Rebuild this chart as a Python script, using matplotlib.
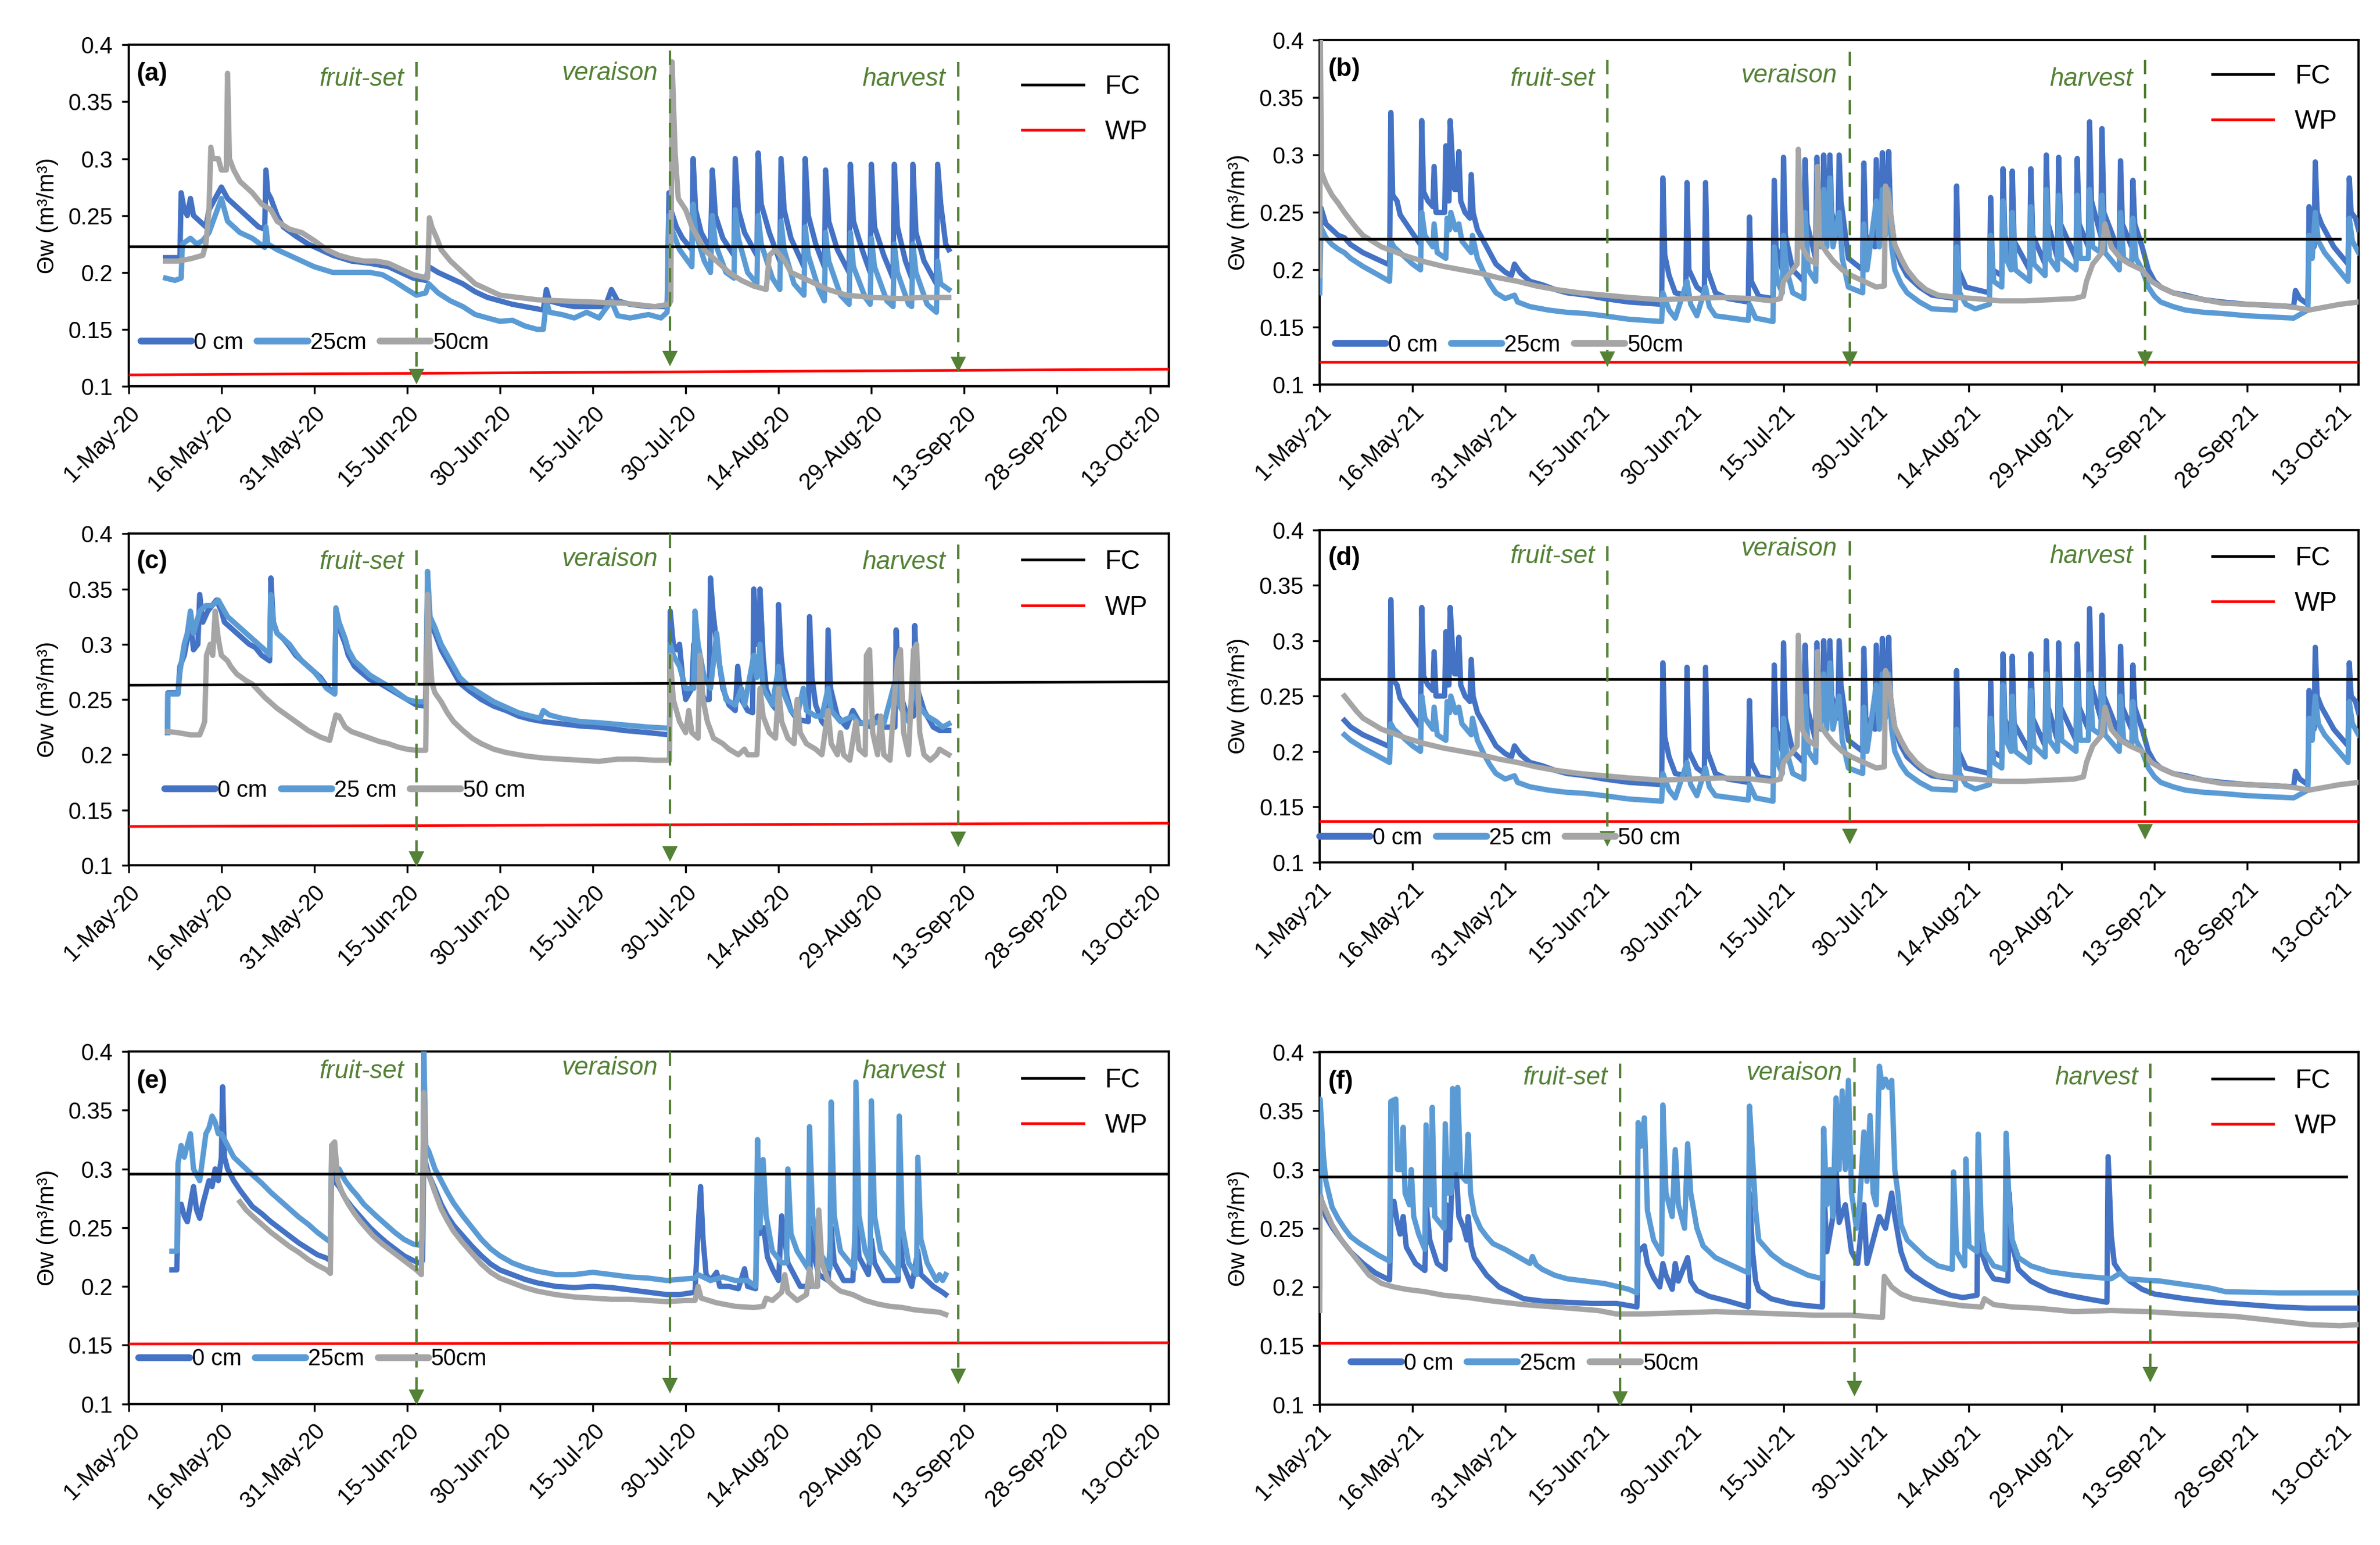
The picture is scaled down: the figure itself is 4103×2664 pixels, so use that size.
import pandas as pd
import matplotlib
matplotlib.use('Agg')
import matplotlib.pyplot as plt
import matplotlib.dates as mdates
from matplotlib.ticker import MultipleLocator, FormatStrFormatter
from matplotlib.lines import Line2D

plt.rcParams['font.family'] = ['Liberation Sans', 'DejaVu Sans']

# ---- soil water content, (day since 1-May, value) pairs ----
# 2020, panel (a)
a_0cm = [(6,0.213),(8.3,0.213),(8.5,0.27),(9,0.255),(9.5,0.25),(10,0.265),(10.5,0.25),(11.5,0.245),(12.5,0.24),
         (13,0.255),(14,0.265),(15,0.275),(16,0.265),(17,0.26),(18,0.255),(19,0.25),(20,0.245),(21,0.24),(22,0.238),
         (22.2,0.29),(22.5,0.27),(23,0.265),(24,0.25),(25,0.24),(27,0.232),(29,0.225),(31,0.22),(33,0.215),(36,0.21),
         (39,0.208),(42,0.205),(44,0.2),(46,0.195),(48,0.193),(48.5,0.205),(50,0.2),(52,0.195),(54,0.19),(56,0.183),
         (58,0.178),(60,0.175),(62,0.172),(64,0.17),(66,0.168),(67,0.167),(67.5,0.185),(68,0.175),(70,0.172),(72,0.17),
         (74,0.17),(77,0.17),(78,0.185),(79,0.175),(81,0.172),(84,0.17),(87,0.17),(87.3,0.27),(87.6,0.255),(88.5,0.24),
         (89.5,0.23),(91,0.22),(91.2,0.3),(91.6,0.255),(92.5,0.235),(94,0.22),(94.3,0.29),(94.8,0.25),(96,0.23),
         (97.8,0.215),(98,0.3),(98.5,0.255),(99.5,0.235),(101.5,0.215),(101.7,0.305),(102.2,0.26),(103.5,0.235),
         (105.2,0.21),(105.4,0.3),(105.9,0.255),(107,0.23),(109.1,0.205),(109.3,0.3),(109.8,0.25),(111,0.225),
         (112.4,0.205),(112.6,0.29),(113.1,0.245),(114.5,0.22),(116.4,0.2),(116.6,0.295),(117.1,0.245),(118.5,0.22),
         (119.8,0.2),(120,0.295),(120.5,0.24),(122,0.215),(123.5,0.195),(123.7,0.295),(124.2,0.24),(125.5,0.21),
         (126.5,0.195),(126.7,0.295),(127.2,0.235),(128.5,0.21),(130.5,0.19),(130.7,0.295),(131.2,0.26),(132,0.225),
         (132.5,0.22)]
a_25cm = [(6,0.195),(7.5,0.193),(8.5,0.195),(8.7,0.225),(10,0.23),(11,0.225),(12,0.228),(13,0.235),(14,0.25),
          (15,0.265),(16,0.245),(17,0.24),(18,0.235),(20,0.23),(22,0.222),(22.2,0.24),(22.5,0.225),(24,0.22),(26,0.215),
          (28,0.21),(30,0.205),(33,0.2),(36,0.2),(39,0.2),(41,0.198),(43,0.192),(45,0.185),(46.5,0.18),(48,0.182),
          (48.5,0.19),(50,0.182),(52,0.175),(54,0.17),(56,0.163),(58,0.16),(60,0.157),(62,0.158),(64,0.153),(66,0.15),
          (67,0.15),(67.5,0.175),(68,0.165),(70,0.163),(72,0.16),(74,0.165),(76,0.16),(78,0.175),(79,0.162),(81,0.16),
          (84,0.163),(86,0.16),(87,0.165),(87.3,0.25),(87.6,0.24),(89,0.22),(91,0.205),(91.2,0.26),(91.6,0.235),
          (93,0.21),(94,0.2),(94.3,0.25),(94.8,0.225),(96.5,0.2),(97.8,0.195),(98,0.255),(98.5,0.23),(100,0.2),
          (101.5,0.19),(101.7,0.25),(102.2,0.225),(104,0.195),(105.2,0.185),(105.4,0.245),(105.9,0.22),(107.5,0.19),
          (109.1,0.18),(109.3,0.24),(109.8,0.215),(111.5,0.185),(112.4,0.175),(112.6,0.235),(113.1,0.21),(115,0.18),
          (116.4,0.172),(116.6,0.235),(117.1,0.205),(119,0.178),(119.8,0.172),(120,0.23),(120.5,0.205),(122.5,0.175),
          (123.5,0.17),(123.7,0.225),(124.2,0.2),(126,0.172),(126.5,0.17),(126.7,0.225),(127.2,0.2),(129,0.172),
          (130.5,0.165),(130.7,0.21),(131.2,0.19),(132.5,0.185)]
a_50cm = [(6,0.21),(8,0.21),(10,0.212),(12,0.215),(12.5,0.225),(13,0.255),(13.3,0.31),(13.6,0.3),(14.5,0.3),(15,0.29),
          (15.8,0.29),(16,0.375),(16.3,0.3),(17,0.29),(18,0.28),(19,0.275),(20,0.27),(21.5,0.26),(23,0.255),(24,0.245),
          (26,0.238),(28,0.235),(30,0.228),(32,0.22),(34,0.215),(36,0.212),(38,0.21),(40,0.21),(42,0.208),(44,0.203),
          (46,0.198),(48.3,0.195),(48.6,0.248),(49,0.24),(49.8,0.23),(50.5,0.22),(52,0.21),(54,0.2),(56,0.19),(58,0.185),
          (60,0.18),(63,0.178),(66,0.176),(70,0.175),(75,0.174),(80,0.173),(85,0.17),(87.3,0.172),(87.6,0.175),
          (87.8,0.385),(88.3,0.305),(88.8,0.265),(90,0.255),(91,0.24),(92,0.23),(93,0.22),(95,0.21),(97,0.2),(99,0.193),
          (101,0.188),(103,0.185),(103.5,0.215),(104.5,0.22),(106,0.21),(107,0.2),(109,0.195),(111,0.19),(113,0.185),
          (116,0.18),(120,0.178),(125,0.177),(128,0.178),(132.5,0.178)]

# 2021, panels (b) and (d)
b_0cm = [(0,0.2),(0.2,0.254),(1,0.24),(2,0.235),(3,0.23),(4,0.228),(5,0.222),(7,0.215),(9,0.21),(11,0.205),(11.3,0.205),
         (11.5,0.337),(11.8,0.265),(12.5,0.26),(13,0.248),(14,0.24),(15,0.232),(16.3,0.222),(16.5,0.33),(16.8,0.268),
         (17.5,0.26),(18.3,0.255),(18.5,0.29),(18.8,0.25),(20.2,0.25),(20.4,0.308),(20.7,0.26),(20.9,0.26),(21.1,0.33),
         (21.4,0.3),(21.8,0.27),(22.3,0.27),(22.5,0.303),(22.8,0.26),(23.5,0.25),(24.3,0.245),(24.5,0.283),(24.8,0.25),
         (25.5,0.235),(26.5,0.225),(27.5,0.215),(28.5,0.205),(30,0.198),(31,0.195),(31.5,0.205),(32.5,0.197),(34,0.19),
         (36,0.187),(38,0.183),(40,0.18),(43,0.178),(46,0.175),(50,0.172),(55.3,0.17),(55.5,0.28),(55.8,0.213),
         (56.5,0.195),(57.5,0.18),(59.2,0.178),(59.4,0.276),(59.7,0.2),(61,0.185),(62.2,0.18),(62.4,0.276),(62.7,0.2),
         (64,0.18),(66,0.175),(69.3,0.172),(69.5,0.246),(69.8,0.19),(71,0.177),(73.3,0.175),(73.5,0.278),(73.8,0.22),
         (74.8,0.2),(75,0.298),(75.3,0.23),(76.5,0.2),(78.3,0.19),(78.5,0.296),(78.8,0.24),(80.2,0.21),(80.4,0.298),
         (80.7,0.25),(81.3,0.23),(81.5,0.3),(81.8,0.26),(82.3,0.24),(82.5,0.3),(82.8,0.25),(83.8,0.23),(84,0.3),
         (84.3,0.26),(85.5,0.21),(87.8,0.2),(88,0.293),(88.3,0.23),(89.8,0.22),(90,0.296),(90.3,0.25),(90.8,0.25),
         (91,0.302),(91.3,0.26),(91.8,0.26),(92,0.303),(92.3,0.25),(93,0.22),(94,0.205),(95,0.195),(97,0.185),(99,0.178),
         (102.8,0.175),(103,0.273),(103.3,0.2),(104.5,0.185),(108.3,0.18),(108.5,0.263),(108.8,0.2),(110.3,0.195),
         (110.5,0.288),(110.8,0.23),(111.8,0.21),(112,0.286),(112.3,0.225),(114.8,0.2),(115,0.288),(115.3,0.23),
         (117.3,0.205),(117.5,0.3),(117.8,0.24),(119.3,0.21),(119.5,0.298),(119.8,0.24),(122.3,0.21),(122.5,0.297),
         (122.8,0.24),(124.3,0.22),(124.5,0.329),(124.8,0.26),(126.3,0.23),(126.5,0.323),(126.8,0.25),(129.3,0.215),
         (129.5,0.295),(129.8,0.24),(131.3,0.22),(131.5,0.278),(131.8,0.24),(133,0.22),(134,0.2),(135,0.19),(136,0.185),
         (138,0.18),(140,0.178),(143,0.174),(146,0.172),(150,0.17),(157.5,0.168),(157.8,0.182),(158.5,0.175),
         (159.8,0.17),(160,0.255),(160.3,0.22),(160.8,0.22),(161,0.294),(161.3,0.25),(162,0.24),(163,0.23),(164,0.22),
         (166.3,0.205),(166.5,0.28),(166.8,0.25),(167.5,0.245),(168,0.235)]
b_25cm = [(0,0.18),(0.2,0.237),(1,0.228),(2,0.222),(3,0.218),(4,0.215),(5,0.21),(7,0.203),(9,0.197),(11.3,0.19),
          (11.5,0.225),(12,0.22),(13,0.215),(15,0.205),(16.3,0.2),(16.5,0.25),(17,0.23),(18.3,0.22),(18.5,0.24),
          (19,0.215),(20.4,0.21),(20.6,0.245),(21,0.235),(21.2,0.25),(22,0.235),(22.5,0.24),(23,0.225),(24.5,0.215),
          (24.7,0.23),(25.5,0.21),(26.5,0.198),(27.5,0.188),(28.5,0.18),(30,0.175),(31.5,0.178),(32,0.172),(34,0.168),
          (37,0.165),(40,0.163),(43,0.162),(46,0.16),(50,0.157),(55.3,0.155),(55.5,0.18),(56.5,0.165),(57.5,0.158),
          (59.4,0.19),(60,0.17),(61,0.16),(62.4,0.185),(63,0.168),(64,0.16),(69.3,0.156),(69.5,0.17),(70.5,0.158),
          (73.3,0.155),(73.5,0.22),(74,0.19),(74.8,0.18),(75,0.23),(75.5,0.2),(76.5,0.18),(78.3,0.175),(78.5,0.25),
          (79,0.2),(80.2,0.19),(80.4,0.26),(81,0.22),(81.5,0.27),(82,0.22),(82.5,0.28),(83,0.22),(84,0.25),(84.5,0.21),
          (85.5,0.185),(87.8,0.18),(88,0.24),(88.5,0.2),(90,0.26),(90.5,0.22),(91,0.27),(91.5,0.23),(92,0.27),
          (92.5,0.22),(93,0.2),(94,0.188),(95,0.18),(97,0.172),(99,0.166),(102.8,0.165),(103,0.22),(103.5,0.18),
          (104.5,0.17),(106,0.166),(108.3,0.17),(108.5,0.23),(109,0.19),(110.3,0.185),(110.5,0.26),(111,0.21),
          (111.8,0.2),(112,0.25),(112.5,0.2),(114.8,0.19),(115,0.255),(115.5,0.205),(117.3,0.195),(117.5,0.27),
          (118,0.21),(119.3,0.2),(119.5,0.265),(120,0.21),(122.3,0.2),(122.5,0.265),(123,0.21),(124.3,0.21),
          (124.5,0.27),(125,0.22),(126.3,0.215),(126.5,0.265),(127,0.215),(129.3,0.2),(129.5,0.25),(130,0.21),
          (131.3,0.205),(131.5,0.245),(132,0.21),(133,0.2),(134,0.185),(135,0.177),(136,0.172),(138,0.168),(140,0.165),
          (143,0.163),(146,0.162),(150,0.16),(157.5,0.158),(159.8,0.165),(160,0.23),(160.5,0.21),(161,0.25),
          (161.5,0.225),(162.5,0.215),(164,0.205),(166.3,0.19),(166.5,0.245),(167,0.225),(168,0.215)]
b_50cm = [(0,0.195),(0.1,0.4),(0.3,0.285),(1,0.275),(2,0.265),(3,0.258),(4,0.25),(5,0.243),(6,0.236),(7,0.23),
          (8.5,0.225),(10,0.22),(12,0.216),(14,0.212),(17,0.207),(20,0.203),(23,0.2),(26,0.197),(29,0.193),(32,0.19),
          (35,0.186),(38,0.183),(42,0.18),(46,0.178),(50,0.176),(55,0.174),(60,0.175),(65,0.176),(70,0.175),(73,0.173),
          (74.5,0.175),(75,0.19),(76.5,0.2),(77.2,0.205),(77.4,0.305),(77.7,0.26),(78,0.22),(79,0.21),(80.3,0.205),
          (80.5,0.29),(80.8,0.225),(82,0.215),(83,0.208),(84.5,0.2),(86,0.195),(88,0.19),(90,0.185),(91.3,0.186),
          (91.5,0.273),(92,0.265),(92.5,0.24),(93,0.222),(94,0.21),(95,0.2),(96.5,0.19),(98,0.183),(100,0.178),
          (103,0.176),(106,0.175),(110,0.173),(114,0.173),(118,0.174),(122,0.175),(123.5,0.177),(124,0.19),(125,0.205),
          (126.5,0.215),(127,0.24),(127.5,0.23),(128,0.22),(129.5,0.21),(131,0.205),(133,0.2),(134.5,0.19),(136,0.185),
          (138,0.18),(140,0.177),(143,0.174),(146,0.171),(150,0.17),(155,0.169),(158,0.167),(160,0.165),(162,0.167),
          (165,0.17),(168,0.172)]

# 2020, panel (c)
c_0cm = [(6.3,0.22),(6.35,0.256),(8,0.256),(8.3,0.28),(9,0.29),(9.5,0.305),(10,0.32),(10.5,0.295),(11.2,0.3),
         (11.5,0.345),(12,0.32),(12.8,0.33),(13.5,0.335),(14.2,0.34),(15,0.33),(15.5,0.32),(16.5,0.315),(17.5,0.31),
         (18.5,0.305),(19.5,0.3),(20.5,0.297),(21.5,0.29),(22.8,0.285),(23,0.36),(23.4,0.32),(24,0.31),(25,0.305),
         (26,0.298),(27,0.29),(28,0.285),(29,0.28),(30,0.275),(31,0.27),(32,0.262),(33.3,0.255),(33.5,0.33),(34,0.315),
         (35,0.3),(35.5,0.29),(36.5,0.28),(37.5,0.275),(39,0.268),(40.5,0.265),(42,0.26),(43.5,0.255),(45,0.25),
         (46.5,0.245),(48,0.244),(48.3,0.35),(48.7,0.32),(49.5,0.31),(50.5,0.295),(51.5,0.285),(52.5,0.275),
         (53.5,0.265),(55,0.258),(57,0.25),(59,0.244),(61,0.24),(63,0.235),(65,0.232),(67,0.23),(70,0.228),(73,0.226),
         (76,0.225),(80,0.222),(84,0.22),(87.4,0.218),(87.5,0.33),(88,0.3),(88.5,0.295),(89,0.3),(89.5,0.27),(90,0.25),
         (91,0.26),(91.3,0.3),(91.8,0.27),(93,0.25),(93.8,0.25),(94,0.36),(94.4,0.33),(95,0.3),(96,0.26),(97,0.245),
         (98,0.24),(98.4,0.28),(99,0.25),(100,0.24),(100.8,0.238),(101,0.35),(101.4,0.3),(101.8,0.3),(102,0.35),
         (102.5,0.29),(103,0.26),(104,0.245),(104.8,0.24),(105,0.336),(105.4,0.29),(106,0.26),(107,0.24),(108,0.232),
         (109.8,0.23),(110,0.325),(110.4,0.27),(111,0.245),(112,0.23),(112.8,0.225),(113,0.313),(113.4,0.26),
         (114.5,0.235),(116,0.225),(117,0.24),(118,0.23),(120,0.225),(121,0.235),(122,0.225),(123.8,0.225),(124,0.313),
         (124.4,0.26),(125.5,0.24),(126.8,0.235),(127,0.317),(127.4,0.26),(128.5,0.24),(130,0.225),(131,0.222),
         (132.5,0.222)]
c_25cm = [(6.3,0.22),(6.35,0.255),(8,0.255),(8.3,0.275),(9,0.3),(9.5,0.31),(10,0.33),(10.5,0.31),(11.5,0.33),
          (12.5,0.335),(13.5,0.335),(14.5,0.34),(15,0.335),(16,0.325),(17,0.32),(18,0.315),(19,0.31),(20,0.305),
          (21,0.3),(22,0.295),(22.8,0.29),(23,0.345),(23.4,0.32),(24,0.31),(25,0.305),(26,0.3),(27,0.292),(28,0.285),
          (29,0.28),(30,0.275),(31,0.268),(32,0.26),(33.3,0.255),(33.5,0.333),(34,0.32),(35,0.305),(35.5,0.295),
          (36.5,0.285),(37.5,0.28),(39,0.272),(40.5,0.267),(42,0.262),(43.5,0.256),(45,0.25),(46.5,0.248),(48,0.248),
          (48.3,0.366),(48.7,0.325),(49.5,0.315),(50.5,0.3),(51.5,0.29),(52.5,0.28),(53.5,0.27),(55,0.262),(57,0.255),
          (59,0.248),(61,0.243),(63,0.238),(65,0.235),(66.5,0.233),(67,0.24),(68,0.236),(70,0.233),(73,0.23),
          (76,0.229),(80,0.227),(84,0.225),(87.4,0.224),(87.5,0.3),(88,0.29),(89,0.28),(90,0.26),(91.3,0.26),
          (91.5,0.33),(92,0.3),(93,0.27),(94,0.26),(95,0.31),(95.5,0.28),(96.5,0.25),(98,0.245),(99,0.26),(99.5,0.245),
          (101,0.29),(101.5,0.27),(102,0.3),(102.5,0.26),(104,0.245),(105,0.28),(105.5,0.26),(107,0.24),(108,0.235),
          (109,0.26),(109.5,0.24),(111,0.235),(112,0.235),(113,0.26),(113.5,0.24),(115,0.23),(117,0.235),(118,0.228),
          (120,0.23),(122,0.228),(124,0.27),(124.5,0.245),(126,0.23),(127,0.27),(127.5,0.245),(129,0.235),(130.5,0.23),
          (131.5,0.225),(132.5,0.228)]
c_50cm = [(6.3,0.221),(8,0.22),(10,0.218),(11.5,0.218),(12,0.225),(12.3,0.23),(12.6,0.29),(13.2,0.3),(13.6,0.29),
          (14,0.33),(14.5,0.305),(15,0.29),(16,0.285),(16.5,0.28),(17.5,0.273),(19,0.267),(20,0.264),(21,0.258),
          (22,0.252),(23,0.247),(24,0.242),(25,0.238),(26,0.234),(27,0.23),(28,0.226),(29,0.222),(30,0.219),(31,0.216),
          (32.5,0.213),(33,0.225),(33.5,0.236),(34,0.235),(35,0.225),(36,0.221),(37.5,0.218),(39,0.215),(40.5,0.212),
          (42,0.21),(43.5,0.207),(45,0.205),(46.5,0.204),(48,0.204),(48.3,0.345),(48.6,0.3),(49,0.265),(49.5,0.256),
          (50.5,0.248),(51.5,0.238),(52.5,0.23),(54,0.222),(55.5,0.215),(57,0.21),(59,0.205),(61,0.202),(64,0.199),
          (67,0.197),(70,0.196),(73,0.195),(76,0.194),(79,0.196),(82,0.196),(85,0.195),(87.4,0.195),(87.5,0.29),
          (88,0.25),(88.5,0.24),(89,0.23),(90,0.22),(90.5,0.24),(91,0.22),(92,0.215),(92.3,0.29),(92.8,0.25),
          (93.5,0.23),(94.5,0.215),(96,0.21),(97,0.205),(98.5,0.2),(99.5,0.205),(100,0.2),(101.5,0.2),(102,0.26),
          (102.5,0.235),(103.5,0.22),(104.5,0.215),(105,0.26),(105.5,0.23),(106.5,0.215),(107.5,0.21),(108,0.25),
          (108.5,0.22),(109.5,0.21),(111,0.205),(112,0.2),(113,0.24),(113.5,0.21),(114.5,0.2),(115,0.22),(115.5,0.2),
          (116.5,0.195),(117.5,0.23),(118,0.205),(119,0.2),(119.2,0.29),(119.7,0.295),(120.2,0.22),(121,0.2),
          (121.5,0.235),(122,0.2),(123,0.195),(123.7,0.25),(124.2,0.285),(124.7,0.295),(125.2,0.22),(126,0.2),
          (126.8,0.295),(127.3,0.3),(127.8,0.22),(128.5,0.2),(129.5,0.195),(130.5,0.2),(131,0.205),(132.5,0.2)]

# 2020, panel (e)
e_0cm = [(7,0.214),(7.8,0.214),(8,0.265),(8.5,0.27),(9,0.26),(9.5,0.255),(10,0.27),(10.5,0.285),(11,0.265),
         (11.5,0.258),(12,0.27),(12.5,0.28),(13,0.29),(13.5,0.285),(14,0.3),(14.5,0.29),(15,0.31),(15.2,0.37),
         (15.5,0.31),(16,0.3),(17,0.29),(18,0.282),(19,0.275),(20,0.268),(21.5,0.262),(23,0.255),(24.5,0.249),
         (26,0.243),(27.5,0.237),(29,0.232),(30.5,0.227),(32,0.224),(32.6,0.222),(32.8,0.3),(33.2,0.29),(34,0.285),
         (35,0.275),(36,0.268),(37,0.262),(38,0.256),(39,0.25),(40,0.245),(41.5,0.238),(43,0.232),(44.5,0.226),
         (46,0.222),(47,0.22),(47.5,0.222),(47.7,0.32),(48,0.305),(48.5,0.295),(49.5,0.283),(50.5,0.27),(51.5,0.26),
         (52.5,0.252),(54,0.243),(55.5,0.234),(57,0.226),(58.5,0.219),(60,0.214),(62,0.21),(64,0.206),(66,0.203),
         (69,0.2),(72,0.199),(75,0.2),(78,0.199),(81,0.197),(84,0.195),(87,0.193),(89,0.193),(91.5,0.195),(92,0.25),
         (92.4,0.285),(92.8,0.24),(93.3,0.21),(94,0.205),(95,0.212),(95.5,0.2),(97,0.2),(98.5,0.198),(99.5,0.215),
         (100,0.2),(101.3,0.198),(101.6,0.27),(102,0.245),(102.6,0.25),(103.2,0.225),(104,0.215),(105,0.205),
         (105.5,0.26),(106,0.24),(106.5,0.22),(107.5,0.21),(108.5,0.2),(110,0.2),(110.3,0.25),(110.8,0.225),
         (111.5,0.21),(113,0.205),(113.5,0.25),(114,0.22),(115.5,0.205),(117,0.205),(117.5,0.26),(118,0.225),
         (119.5,0.21),(120,0.24),(120.5,0.22),(122,0.205),(124.3,0.205),(124.6,0.25),(125,0.22),(126.5,0.2),
         (127.5,0.23),(128,0.21),(130,0.2),(131.5,0.195),(132,0.193)]
e_25cm = [(7,0.23),(7.8,0.23),(8,0.305),(8.5,0.32),(9,0.31),(9.5,0.32),(10,0.33),(10.5,0.3),(11,0.295),(11.5,0.29),
          (12,0.31),(12.5,0.33),(13,0.335),(13.5,0.345),(14,0.34),(14.5,0.33),(15,0.33),(15.5,0.325),(16,0.32),
          (17,0.31),(18,0.305),(19,0.3),(20,0.295),(21.5,0.288),(23,0.28),(24.5,0.273),(26,0.266),(27.5,0.259),
          (29,0.253),(30.5,0.246),(32,0.24),(32.6,0.238),(32.8,0.31),(33.2,0.3),(34,0.3),(35,0.29),(36,0.283),
          (37,0.277),(38,0.27),(39,0.265),(40,0.26),(41.5,0.253),(43,0.246),(44.5,0.24),(46,0.236),(47,0.235),
          (47.5,0.24),(47.7,0.4),(48,0.32),(48.5,0.315),(49.5,0.3),(50.5,0.29),(51.5,0.28),(52.5,0.271),(54,0.26),
          (55.5,0.25),(57,0.24),(58.5,0.232),(60,0.226),(62,0.22),(64,0.216),(66,0.213),(69,0.21),(72,0.21),(75,0.212),
          (78,0.21),(81,0.208),(84,0.207),(87,0.205),(89,0.206),(91.5,0.207),(92,0.21),(94,0.205),(96,0.208),(98,0.205),
          (100,0.205),(101.3,0.2),(101.6,0.325),(102,0.25),(102.5,0.308),(103,0.26),(104,0.23),(105.5,0.22),
          (106.3,0.22),(106.5,0.3),(107,0.245),(108,0.23),(109.8,0.215),(110,0.336),(110.5,0.26),(111.5,0.23),
          (113.3,0.215),(113.5,0.357),(114,0.26),(115,0.23),(117.3,0.215),(117.5,0.374),(118,0.26),(119,0.23),
          (119.8,0.22),(120,0.358),(120.5,0.26),(121.5,0.23),(124.3,0.21),(124.5,0.345),(125,0.25),(126,0.22),
          (127.3,0.21),(127.5,0.31),(128,0.24),(129,0.22),(130.5,0.205),(131,0.21),(131.5,0.205),(132,0.21)]
e_50cm = [(18,0.272),(19,0.265),(20,0.26),(21.5,0.253),(23,0.246),(24.5,0.24),(26,0.234),(27.5,0.229),(29,0.223),
          (30.5,0.218),(32,0.214),(32.6,0.211),(32.8,0.32),(33.3,0.323),(33.8,0.29),(34.5,0.28),(35.5,0.27),
          (36.5,0.262),(37.5,0.255),(38.5,0.249),(39.5,0.243),(41,0.236),(42.5,0.23),(44,0.224),(45.5,0.218),
          (46.5,0.214),(47.3,0.21),(47.5,0.28),(47.7,0.365),(48,0.3),(48.5,0.295),(49.5,0.28),(50.5,0.266),(51.5,0.256),
          (52.5,0.247),(54,0.237),(55.5,0.228),(57,0.219),(58.5,0.212),(60,0.207),(62,0.203),(64,0.199),(66,0.196),
          (69,0.193),(72,0.191),(75,0.19),(78,0.189),(81,0.189),(84,0.188),(87,0.187),(90,0.188),(91.5,0.188),(92,0.2),
          (92.5,0.19),(95,0.186),(98,0.183),(101,0.182),(102.5,0.183),(103,0.19),(104,0.188),(105.5,0.195),(106,0.21),
          (106.5,0.195),(108,0.188),(109.5,0.193),(110,0.215),(110.5,0.2),(111.3,0.2),(111.5,0.265),(112,0.22),
          (113,0.205),(114,0.2),(115,0.196),(117,0.193),(119,0.188),(121,0.185),(123,0.183),(125,0.182),(127,0.18),
          (129,0.179),(131,0.178),(132,0.176)]

# 2021, panel (f)
f_0cm = [(0,0.28),(0.5,0.27),(1,0.26),(2,0.251),(3.5,0.24),(5,0.23),(7,0.22),(9,0.212),(10.5,0.208),(11.3,0.206),
         (11.5,0.26),(12,0.273),(12.5,0.256),(13,0.245),(13.5,0.26),(14,0.234),(15.5,0.22),(17,0.214),(17.3,0.267),
         (17.8,0.24),(19,0.22),(20.3,0.215),(20.5,0.27),(21,0.24),(21.5,0.3),(22,0.307),(22.5,0.26),(23.3,0.25),
         (23.8,0.24),(24,0.26),(24.5,0.235),(25,0.225),(27,0.21),(29,0.2),(31,0.195),(33,0.19),(36,0.188),(40,0.187),
         (44,0.186),(48,0.186),(51.3,0.183),(51.5,0.23),(52.5,0.235),(53,0.22),(54,0.208),(55,0.2),(55.5,0.22),
         (56,0.21),(57,0.198),(57.5,0.22),(58,0.205),(59.5,0.225),(60,0.205),(61,0.197),(63,0.192),(66,0.188),
         (69.3,0.183),(69.5,0.28),(70,0.23),(70.5,0.205),(71,0.197),(73,0.19),(76,0.186),(79,0.184),(81.3,0.183),
         (81.5,0.29),(82,0.23),(83,0.26),(83.5,0.3),(84,0.255),(85,0.27),(86,0.23),(87,0.22),(88,0.27),(88.5,0.22),
         (89.5,0.24),(90.5,0.26),(91.5,0.25),(92.5,0.28),(93,0.26),(94,0.23),(95,0.215),(96,0.21),(98,0.203),
         (100,0.197),(102,0.193),(104,0.191),(106.3,0.193),(106.5,0.33),(107,0.23),(108,0.215),(109,0.207),
         (111.3,0.205),(111.5,0.28),(112,0.235),(113,0.215),(115,0.205),(118,0.197),(121,0.193),(124,0.19),
         (127.3,0.187),(127.5,0.311),(128,0.244),(128.5,0.22),(129.5,0.212),(131,0.205),(133,0.198),(135,0.194),
         (140,0.19),(145,0.187),(150,0.185),(155,0.183),(160,0.182),(168,0.182)]
f_25cm = [(0,0.2),(0.05,0.36),(0.3,0.34),(0.6,0.312),(1,0.29),(2,0.268),(3,0.258),(4,0.25),(5,0.243),(6.5,0.237),
          (8,0.232),(9.5,0.227),(11.3,0.222),(11.5,0.358),(12.3,0.36),(12.6,0.3),(13.2,0.3),(13.5,0.336),(13.8,0.28),
          (14.5,0.27),(14.8,0.3),(15.2,0.26),(16,0.245),(17,0.232),(17.2,0.338),(17.6,0.27),(18,0.27),(18.2,0.353),
          (18.6,0.26),(20.1,0.25),(20.3,0.339),(20.7,0.28),(21.3,0.28),(21.5,0.369),(21.9,0.3),(22.1,0.3),(22.3,0.37),
          (22.8,0.295),(23.7,0.29),(24,0.33),(24.4,0.28),(25,0.262),(26,0.25),(27,0.243),(28,0.237),(30,0.232),
          (32,0.226),(34,0.22),(34.4,0.226),(35,0.219),(36,0.215),(38,0.21),(40,0.207),(43,0.205),(46,0.203),
          (48.5,0.2),(50,0.198),(51.3,0.195),(51.5,0.34),(52,0.32),(52.5,0.344),(53,0.265),(54,0.24),(55.3,0.228),
          (55.5,0.355),(56,0.28),(57,0.26),(57.5,0.317),(58,0.27),(59,0.25),(59.5,0.322),(60,0.28),(61,0.25),
          (62,0.235),(64,0.225),(66,0.22),(69.3,0.212),(69.5,0.354),(70,0.31),(70.5,0.265),(71,0.24),(73,0.228),
          (75,0.22),(77,0.215),(79,0.21),(81.3,0.207),(81.5,0.335),(82,0.27),(82.5,0.3),(83,0.26),(83.5,0.361),(84,0.3),
          (84.5,0.367),(85,0.3),(85.5,0.376),(86,0.28),(86.8,0.25),(87.3,0.27),(88,0.332),(88.5,0.29),(89,0.346),
          (89.5,0.28),(90,0.27),(90.5,0.388),(91,0.37),(91.5,0.377),(92,0.37),(92.5,0.376),(93,0.3),(93.5,0.28),
          (94,0.253),(95,0.24),(96,0.235),(98,0.225),(100,0.218),(102.3,0.215),(102.5,0.298),(103,0.23),(104.3,0.218),
          (104.5,0.309),(105,0.235),(106.3,0.23),(106.5,0.33),(107,0.25),(107.5,0.23),(109,0.218),(110.8,0.215),
          (111,0.331),(111.5,0.27),(112,0.24),(113,0.225),(115,0.218),(118,0.213),(122,0.21),(126,0.208),(128,0.207),
          (129.5,0.212),(130.5,0.207),(133,0.206),(136,0.205),(140,0.202),(144,0.199),(146.5,0.196),(155,0.195),
          (168,0.195)]
f_50cm = [(0,0.18),(0.05,0.277),(1,0.265),(2,0.253),(3.5,0.24),(5,0.23),(6.5,0.22),(8,0.21),(10,0.203),(12,0.2),
          (14,0.198),(17,0.196),(20,0.193),(24,0.191),(28,0.188),(33,0.185),(38,0.183),(45,0.18),(48,0.177),(52,0.177),
          (58,0.178),(64,0.179),(70,0.178),(75,0.177),(80,0.176),(86,0.176),(91,0.174),(91.3,0.209),(92.5,0.2),
          (94,0.194),(96,0.19),(100,0.187),(104,0.184),(107,0.183),(107.5,0.19),(109,0.185),(112,0.183),(116,0.182),
          (122,0.179),(128,0.18),(134,0.179),(140,0.177),(148,0.175),(155,0.171),(160,0.168),(165,0.167),(168,0.168)]

# field capacity / wilting point (start, end)
fc_vals = {'a': [0.223, 0.223], 'b': [0.227, 0.227], 'c': [0.263, 0.266],
           'd': [0.265, 0.265], 'e': [0.296, 0.296], 'f': [0.294, 0.294]}
wp_vals = {'a': [0.110, 0.115], 'b': [0.120, 0.120], 'c': [0.135, 0.138],
           'd': [0.137, 0.137], 'e': [0.151, 0.152], 'f': [0.152, 0.153]}

# phenology stages (day since 1-May)
stage_names = ['fruit-set', 'veraison', 'harvest']
stages_2020 = [46.5, 87.5, 134.0]
stages_2021 = [46.5, 85.7, 133.5]
stages_2021f = [48.6, 86.5, 134.3]

depth_names = ['0 cm', '25cm', '50cm']
depth_names_sp = ['0 cm', '25 cm', '50 cm']
tick_days = [0, 15, 30, 45, 60, 75, 90, 105, 120, 135, 150, 165]

colors = ['#4472C4', '#5B9BD5', '#A5A5A5']
green = '#538135'

panels = [
    dict(key='a', rect=[0.054, 0.750, 0.437, 0.221], year=2020, series=(a_0cm, a_25cm, a_50cm), names=depth_names,
         stages=stages_2020, arrows=[(0.385, 0.105), (0.395, 0.121), (0.385, 0.116)], leg=(0.012, 0.127),
         tmin=0, fc_end=168, fcleg=0.945, ty=0.370, tv=0.005),
    dict(key='b', rect=[0.5545, 0.751, 0.4365, 0.223], year=2021, series=(b_0cm, b_25cm, b_50cm), names=depth_names,
         stages=stages_2021, arrows=[(0.383, 0.119), (0.39, 0.119), (0.383, 0.119)], leg=(0.015, 0.115),
         tmin=0, fc_end=165, fcleg=0.963, ty=0.366, tv=0.003),
    dict(key='c', rect=[0.054, 0.440, 0.437, 0.2145], year=2020, series=(c_0cm, c_25cm, c_50cm), names=depth_names_sp,
         stages=stages_2020, arrows=[(0.385, 0.102), (0.4, 0.107), (0.39, 0.12)], leg=(0.035, 0.226),
         tmin=0, fc_end=168, fcleg=0.985, ty=0.374, tv=0.003),
    dict(key='d', rect=[0.5545, 0.442, 0.4365, 0.215], year=2021, series=(b_0cm, b_25cm, b_50cm), names=depth_names_sp,
         stages=stages_2021, arrows=[(0.385, 0.118), (0.39, 0.12), (0.395, 0.124)], leg=(0.0, 0.072),
         tmin=3.7, fc_end=168, fcleg=0.985, ty=0.376, tv=0.007),
    dict(key='e', rect=[0.054, 0.0914, 0.437, 0.228], year=2020, series=(e_0cm, e_25cm, e_50cm), names=depth_names,
         stages=stages_2020, arrows=[(0.39, 0.102), (0.4, 0.112), (0.39, 0.12)], leg=(0.010, 0.127),
         tmin=0, fc_end=168, fcleg=0.985, ty=0.383, tv=0.003),
    dict(key='f', rect=[0.5545, 0.091, 0.4365, 0.228], year=2021, series=(f_0cm, f_25cm, f_50cm), names=depth_names,
         stages=stages_2021f, arrows=[(0.39, 0.101), (0.395, 0.11), (0.39, 0.122)], leg=(0.03, 0.117),
         tmin=0, fc_end=166, fcleg=0.985, ty=0.378, tv=0.004),
]


def day2date(year, days):
    return pd.Timestamp('%d-05-01' % year) + pd.to_timedelta(list(days), unit='D')


fig = plt.figure(figsize=(4103 / 300, 2664 / 300), dpi=300)

for p in panels:
    ax = fig.add_axes(p['rect'])
    yr = p['year']
    handles = []
    for pts, col, name in zip(p['series'], colors, p['names']):
        pts = [q for q in pts if q[0] >= p['tmin']]
        days = [q[0] for q in pts]
        vals = [q[1] for q in pts]
        ax.plot(day2date(yr, days), vals, color=col, lw=2.2, solid_joinstyle='round', zorder=3)
        handles.append(Line2D([], [], color=col, lw=2.8, solid_capstyle='round', label=name))

    # FC / WP
    hfc, = ax.plot(day2date(yr, [0, p['fc_end']]), fc_vals[p['key']], color='black', lw=1.1, zorder=4, label='FC')
    hwp, = ax.plot(day2date(yr, [0, 168]), wp_vals[p['key']], color='#FF0000', lw=1.1, zorder=4, label='WP')

    # phenology stages
    for sd, name, (ytop, ybot) in zip(p['stages'], stage_names, p['arrows']):
        x = day2date(yr, [sd])[0]
        ax.plot([x, x], [ytop, ybot + 0.006], color=green, lw=1.0, ls=(0, (6, 4)), zorder=5)
        ax.plot([x], [ybot + 0.004], marker='v', color=green, markersize=5, zorder=5)
        ty = p['ty'] + (p['tv'] if name == 'veraison' else 0)
        ax.text(day2date(yr, [sd - 2.0])[0], ty, name, color=green, style='italic',
                fontsize=10.5, ha='right', va='center', zorder=6)

    ax.text(0.008, 0.915, '(%s)' % p['key'], transform=ax.transAxes, fontsize=10.5,
            fontweight='bold', ha='left', va='center')

    leg1 = ax.legend(handles=[hfc, hwp], loc='upper right', bbox_to_anchor=(0.99, p['fcleg']), frameon=False,
                     fontsize=11, handlelength=2.3, handletextpad=0.8, labelspacing=0.75, borderaxespad=0)
    ax.add_artist(leg1)
    ax.legend(handles=handles, loc='center left', bbox_to_anchor=p['leg'], ncol=3, frameon=False,
              fontsize=9.5, handlelength=2.2, handletextpad=0.1, columnspacing=0.6, borderaxespad=0, borderpad=0)

    ax.set_ylim(0.1, 0.4)
    ax.set_xlim(day2date(yr, [0])[0], day2date(yr, [168])[0])
    ax.yaxis.set_major_locator(MultipleLocator(0.05))
    ax.yaxis.set_major_formatter(FormatStrFormatter('%g'))
    ax.set_xticks(day2date(yr, tick_days))
    ax.xaxis.set_major_formatter(mdates.DateFormatter('%-d-%b-%y'))
    ax.tick_params(axis='both', direction='out', length=3, width=0.8, labelsize=9.5)
    for lab in ax.get_xticklabels():
        lab.set_rotation(45)
        lab.set_ha('right')
        lab.set_rotation_mode('anchor')
    for s in ax.spines.values():
        s.set_linewidth(0.9)
    ax.set_ylabel('\u0398w (m\u00b3/m\u00b3)', fontsize=9.5, labelpad=4)

fig.savefig('out.png', dpi=300)
